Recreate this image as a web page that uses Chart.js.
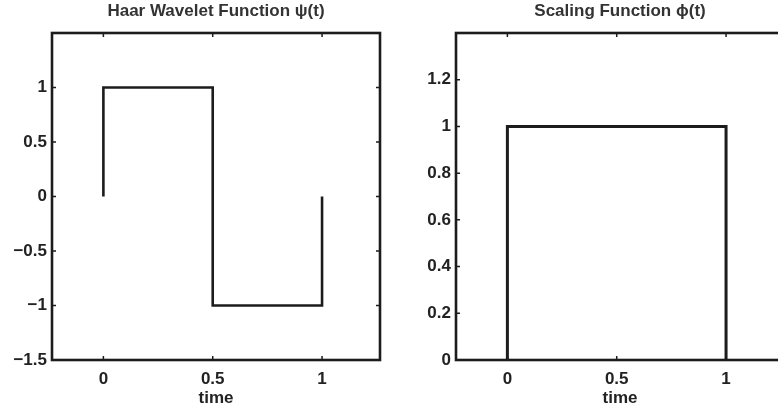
<!DOCTYPE html>
<html>
<head>
<meta charset="utf-8">
<script src="https://cdn.jsdelivr.net/npm/chart.js@4/dist/chart.umd.min.js"></script>
<style>
html, body { margin: 0; padding: 0; background: #fff; overflow: hidden; }
#wrap { position: relative; width: 778px; height: 416px; overflow: hidden; }
#c1 { position: absolute; left: 0; top: 0; }
#c2 { position: absolute; left: 390px; top: 0; }
</style>
</head>
<body>
<div id="wrap">
  <canvas id="c1" width="390" height="416"></canvas>
  <canvas id="c2" width="400" height="416"></canvas>
</div>
<script>
// Haar wavelet psi(t) and scaling function phi(t), step corners
const haarT = [0, 0, 0.5, 0.5, 1, 1];
const haarPsi = [0, 1, 1, -1, -1, 0];
const scaleT = [0, 0, 1, 1];
const scalePhi = [0, 1, 1, 0];

// tick labels
const timeTicks = [0, 0.5, 1];
const psiTicks = [-1.5, -1, -0.5, 0, 0.5, 1];
const phiTicks = [0, 0.2, 0.4, 0.6, 0.8, 1, 1.2];

const FONT = "'Liberation Sans', Arial, sans-serif";
const INK = '#1c1c1c';

function fmt(v) {
  return v < 0 ? '\u2212' + Math.abs(v) : String(v);
}

// matlab-style box with inward ticks on all four sides
const boxPlugin = {
  id: 'matlabBox',
  afterDatasetsDraw(chart) {
    const ctx = chart.ctx;
    const a = chart.chartArea;
    const x = chart.scales.x, y = chart.scales.y;
    ctx.save();
    ctx.strokeStyle = INK;
    ctx.lineWidth = 1.5;
    ctx.beginPath();
    x.ticks.forEach(t => {
      const px = x.getPixelForValue(t.value);
      ctx.moveTo(px, a.bottom); ctx.lineTo(px, a.bottom - 4);
      ctx.moveTo(px, a.top); ctx.lineTo(px, a.top + 4);
    });
    y.ticks.forEach(t => {
      const py = y.getPixelForValue(t.value);
      ctx.moveTo(a.left, py); ctx.lineTo(a.left + 4, py);
      ctx.moveTo(a.right, py); ctx.lineTo(a.right - 4, py);
    });
    ctx.stroke();
    ctx.lineWidth = 2.6;
    ctx.strokeRect(a.left, a.top, a.right - a.left, a.bottom - a.top);
    ctx.restore();
  }
};

function makeChart(id, t, vals, o) {
  return new Chart(document.getElementById(id), {
    type: 'scatter',
    data: {
      datasets: [{
        data: t.map((v, i) => ({ x: v, y: vals[i] })),
        showLine: true,
        borderColor: INK,
        borderWidth: o.lineWidth,
        pointRadius: 0,
        clip: false
      }]
    },
    options: {
      responsive: false,
      animation: false,
      devicePixelRatio: 1,
      layout: { padding: { left: 0, right: o.padRight, top: 0, bottom: 0 } },
      plugins: {
        legend: { display: false },
        tooltip: { enabled: false },
        title: {
          display: true,
          text: o.title,
          fullSize: false,
          color: '#333',
          font: { family: FONT, size: 17, weight: 'bold' },
          padding: { top: 1, bottom: 11.6 }
        }
      },
      scales: {
        x: {
          type: 'linear',
          min: -0.235,
          max: 1.265,
          afterBuildTicks: s => { s.ticks = timeTicks.map(v => ({ value: v })); },
          afterFit: s => { s.height = 56; },
          grid: { display: false, drawTicks: false },
          border: { display: false },
          ticks: {
            color: '#222',
            padding: 9,
            maxRotation: 0,
            font: { family: FONT, size: 17, weight: 'bold' },
            callback: v => fmt(v)
          },
          title: {
            display: true,
            text: 'time',
            color: '#222',
            font: { family: FONT, size: 17, weight: 'bold' },
            padding: { top: 0, bottom: 7 }
          }
        },
        y: {
          min: o.yMin,
          max: o.yMax,
          afterBuildTicks: s => { s.ticks = o.yTicks.map(v => ({ value: v })); },
          afterFit: s => { s.width = o.yWidth; },
          grid: { display: false, drawTicks: false },
          border: { display: false },
          ticks: {
            color: '#222',
            padding: 5,
            font: { family: FONT, size: 17, weight: 'bold' },
            callback: v => fmt(v)
          }
        }
      }
    },
    plugins: [boxPlugin]
  });
}

makeChart('c1', haarT, haarPsi, {
  title: 'Haar Wavelet Function \u03C8(t)',
  yMin: -1.5, yMax: 1.5, yTicks: psiTicks,
  yWidth: 52, padRight: 10, lineWidth: 2.6
});

makeChart('c2', scaleT, scalePhi, {
  title: 'Scaling Function \u03D5(t)',
  yMin: 0, yMax: 1.4, yTicks: phiTicks,
  yWidth: 66, padRight: 6, lineWidth: 3
});
</script>
</body>
</html>
